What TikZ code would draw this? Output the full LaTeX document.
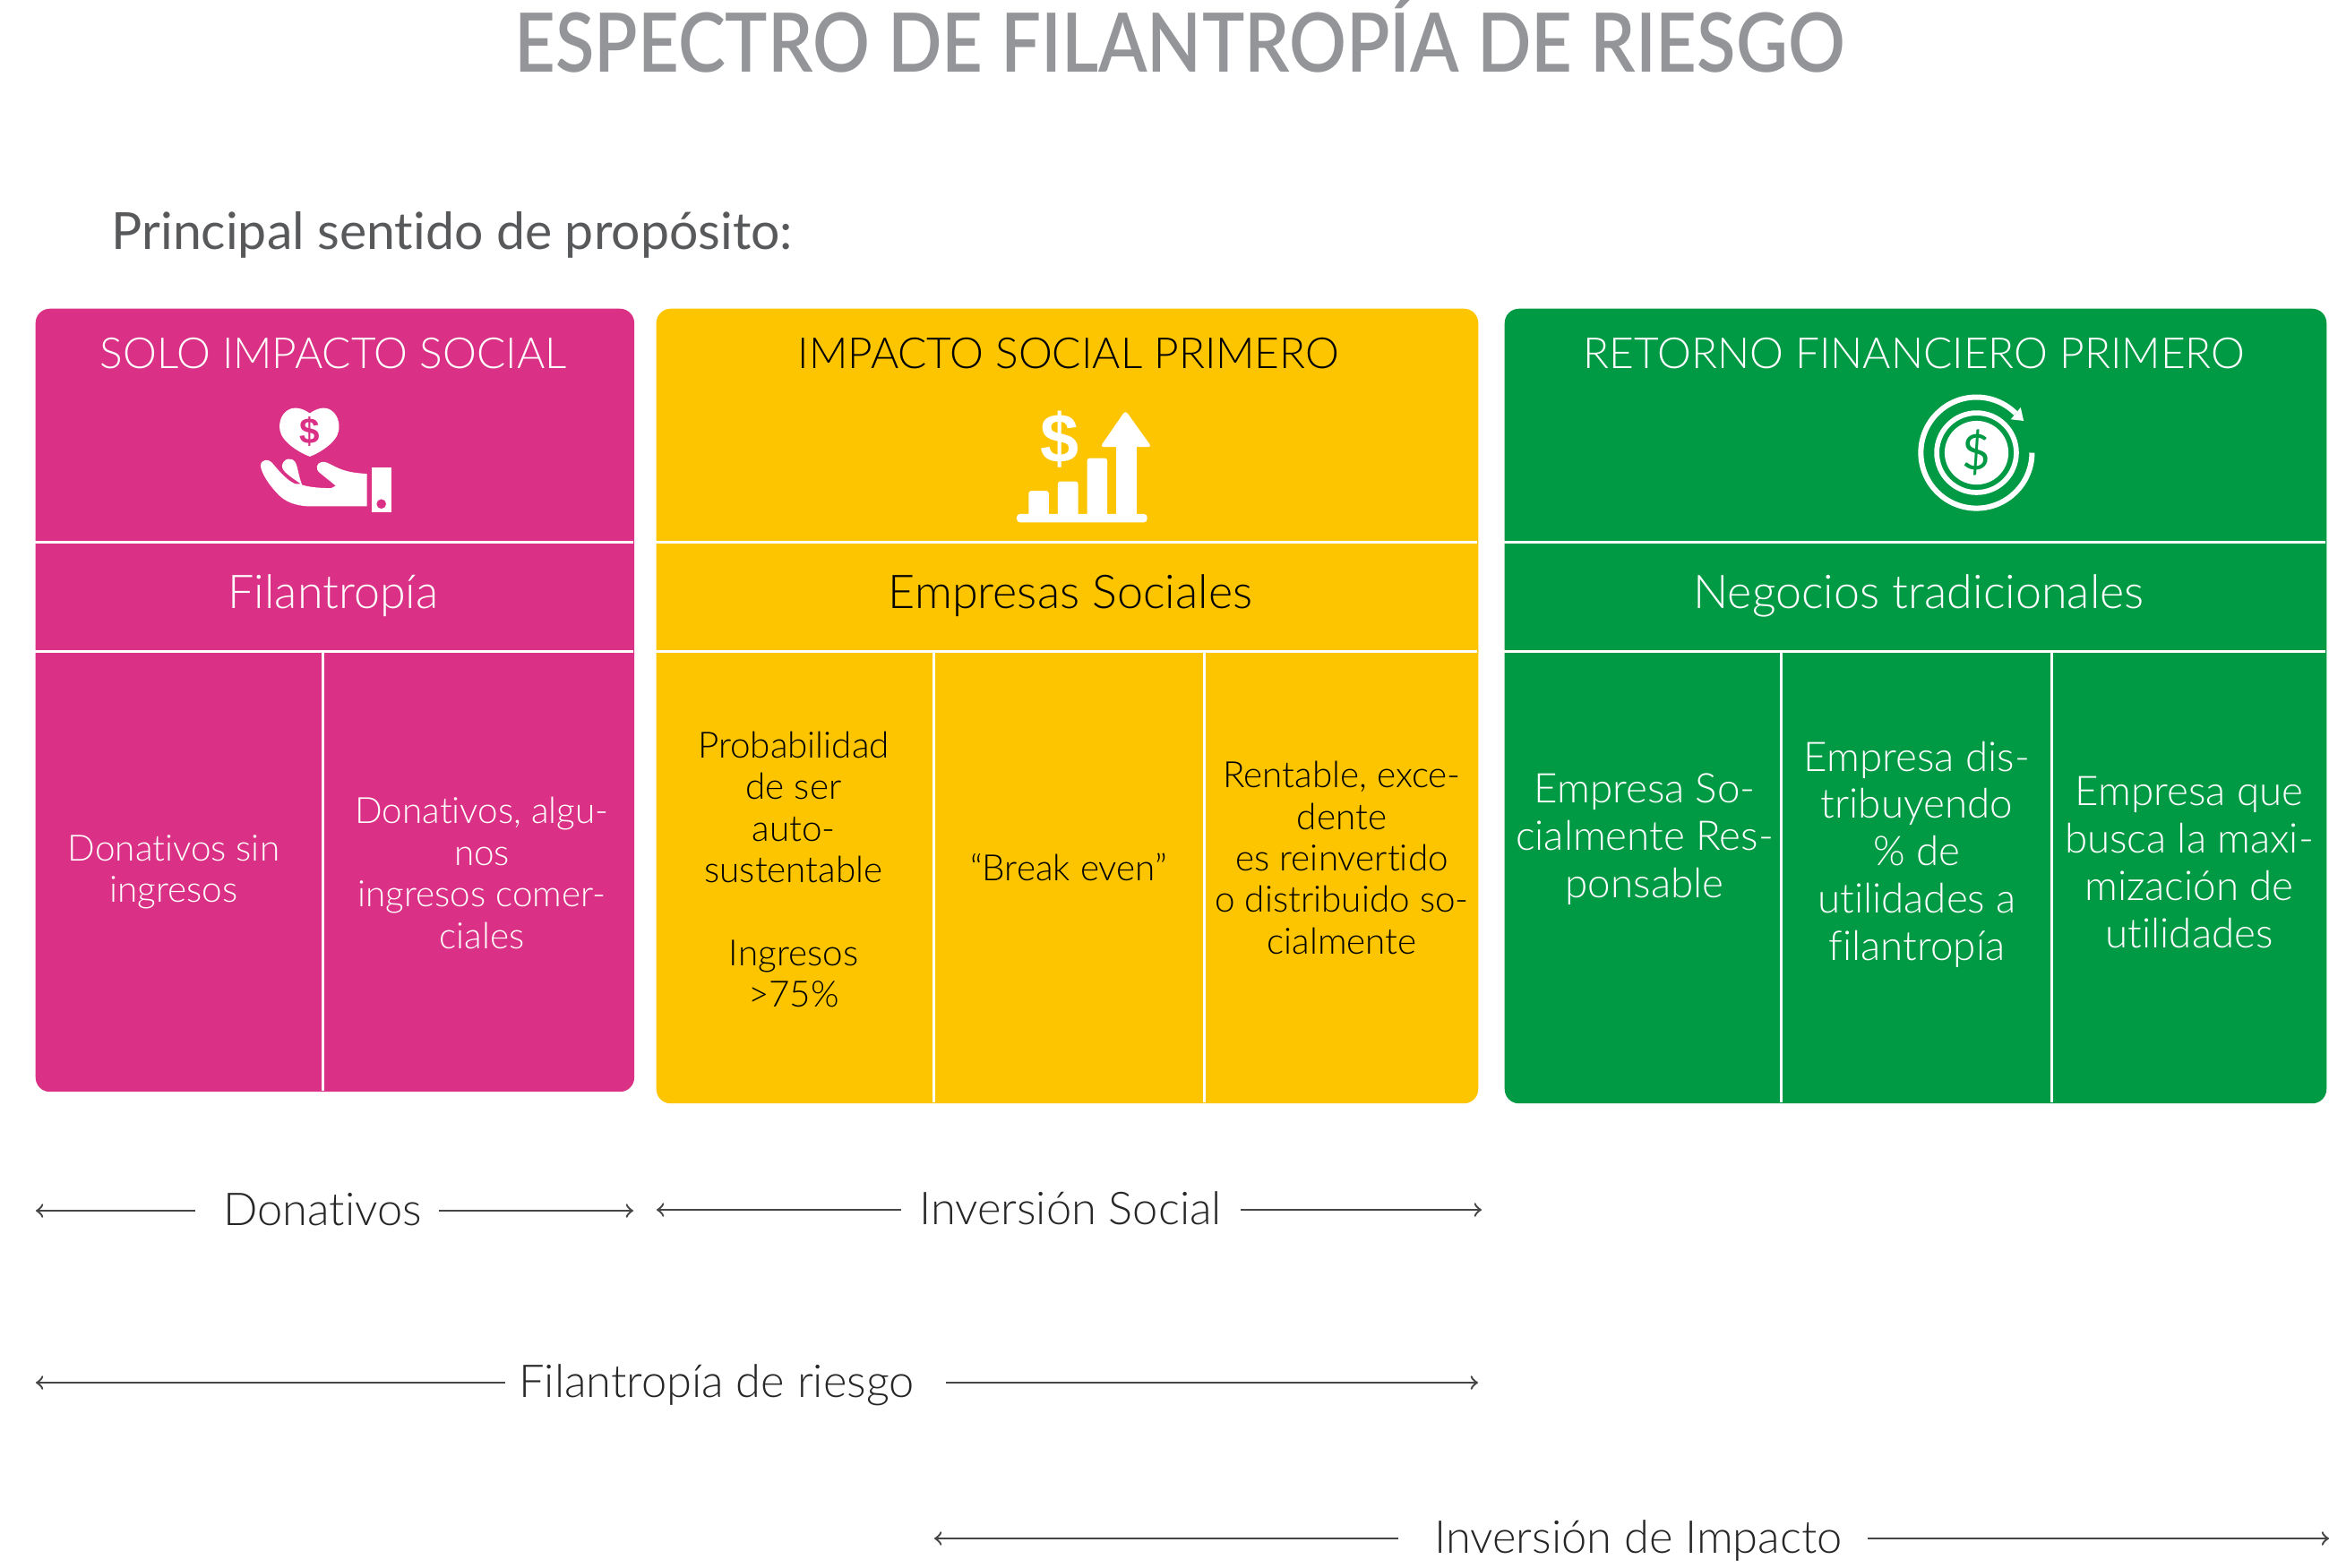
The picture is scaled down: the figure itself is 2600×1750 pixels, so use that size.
\documentclass[tikz,border=0pt]{standalone}
\usepackage{fontspec}
\usetikzlibrary{arrows, calc}
\setmainfont{Lato}[UprightFont=* Light, BoldFont=* Bold, Ligatures=NoCommon]
\newfontfamily\titlefont{Lato}[UprightFont=* Semibold, FakeStretch=0.87, Ligatures=NoCommon]
\newfontfamily\subfont{Lato}[Ligatures=NoCommon]
\newfontfamily\symbolfont{Liberation Sans}[UprightFont=* Bold]
\definecolor{grantpink}{RGB}{218,49,134}
\definecolor{socialyellow}{RGB}{253,197,0}
\definecolor{returngreen}{RGB}{0,154,68}
\definecolor{titlegrey}{RGB}{147,149,152}
\definecolor{subgrey}{RGB}{88,89,91}
\definecolor{spangrey}{RGB}{70,70,70}
\tikzset{
    panel/.style={rounded corners=0.16cm, anchor=north west, inner sep=0pt},
    divider/.style={white, line width=0.03cm},
    headtext/.style={font=\fontsize{13.6}{17}\selectfont},
    rowtext/.style={font=\fontsize{14.8}{18}\selectfont},
    celltext/.style={align=center, inner sep=0pt, font=\fontsize{11.5}{13.2}\selectfont},
    bigcell/.style={align=center, inner sep=0pt, font=\fontsize{13}{15}\selectfont},
    spanlabel/.style={inner sep=0pt, text height=9.35pt, text depth=0pt, black!85, font=\fontsize{14.4}{18}\selectfont},
    spanarrow/.style={->, >=to, spangrey, line width=0.024cm},
}
\begin{document}
\begin{tikzpicture}[x=0.01cm, y=-0.01cm]
    \useasboundingbox (0,0) rectangle (2600,1750);

    % titulo
    \node[titlegrey] (title) at (1317,38) {\titlefont\fontsize{26}{32}\selectfont ESPECTRO DE FILANTROPÍA DE RIESGO};
    \node[subgrey, anchor=west, inner sep=0pt] (purpose) at (124,262) {\subfont\fontsize{16.25}{18}\selectfont Principal sentido de propósito:};

    % paneles
    \node[panel, fill=grantpink, minimum width=6.68cm, minimum height=8.74cm] (pinkbox) at (39,344) {};
    \node[panel, fill=socialyellow, minimum width=9.17cm, minimum height=8.87cm] (yellowbox) at (732,344) {};
    \node[panel, fill=returngreen, minimum width=9.17cm, minimum height=8.87cm] (greenbox) at (1679,344) {};

    \draw[divider] (39,605) -- (707,605);
    \draw[divider] (39,727) -- (707,727);
    \draw[divider] (360,727) -- (360,1218);
    \draw[divider] (732,605) -- (1649,605);
    \draw[divider] (732,727) -- (1649,727);
    \draw[divider] (1042,727) -- (1042,1231);
    \draw[divider] (1344,727) -- (1344,1231);
    \draw[divider] (1679,605) -- (2596,605);
    \draw[divider] (1679,727) -- (2596,727);
    \draw[divider] (1988,727) -- (1988,1231);
    \draw[divider] (2290,727) -- (2290,1231);

    % encabezados
    \node[headtext, white] (pinkhead) at (372,395) {SOLO IMPACTO SOCIAL};
    \node[headtext, black] (yellowhead) at (1193,395) {IMPACTO SOCIAL PRIMERO};
    \node[headtext, white] (greenhead) at (2137,395) {RETORNO FINANCIERO PRIMERO};
    \node[rowtext, white] (pinkrow) at (372,665) {Filantropía};
    \node[rowtext, black] (yellowrow) at (1195,665) {Empresas Sociales};
    \node[rowtext, white] (greenrow) at (2142,665) {Negocios tradicionales};

    % celdas
    \node[celltext, white] (pinkone) at (194,974) {Donativos sin\\ingresos};
    \node[celltext, white] (pinktwo) at (538,975) {Donativos, algu-\\nos\\ingresos comer-\\ciales};
    \node[celltext, black] (yellowone) at (886,971) {Probabilidad\\de ser\\auto-\\sustentable\\~\\Ingresos\\>75\%};
    \node[celltext, black] (yellowtwo) at (1193,968) {“Break even”};
    \node[celltext, black] (yellowthree) at (1498,958) {Rentable, exce-\\dente\\es reinvertido\\o distribuido so-\\cialmente};
    \node[bigcell, white] (greenone) at (1836,937) {Empresa So-\\cialmente Res-\\ponsable};
    \node[bigcell, white] (greentwo) at (2140,954) {Empresa dis-\\tribuyendo\\\% de\\utilidades a\\filantropía};
    \node[bigcell, white] (greenthree) at (2444,963) {Empresa que\\busca la maxi-\\mización de\\utilidades};

    % mano con corazon
    \begin{scope}[shift={(250,400)}, x=0.00333cm, y=-0.00333cm]
        \fill[white] (288,185) .. controls (265,168) and (235,160) .. (213,175) .. controls (192,190) and (183,215) .. (188,243) .. controls (195,282) and (255,318) .. (288,330) .. controls (321,318) and (379,282) .. (385,243) .. controls (389,215) and (381,190) .. (360,175) .. controls (339,160) and (311,168) .. (288,185) -- cycle;
        \node[grantpink] (heartsign) at (288,246) {\symbolfont\fontsize{11.5}{11.5}\selectfont \$};
        \fill[white] (480,388) .. controls (440,385) and (410,382) .. (375,365) .. controls (355,355) and (340,345) .. (328,348) .. controls (310,352) and (305,372) .. (322,385) -- (375,428) -- (360,436) .. controls (330,436) and (290,434) .. (262,425) .. controls (250,395) and (248,365) .. (240,350) .. controls (228,330) and (200,335) .. (195,360) .. controls (193,380) and (225,398) .. (258,422) -- (240,422) .. controls (215,412) and (190,385) .. (165,355) .. controls (150,335) and (125,338) .. (123,360) .. controls (125,385) and (150,425) .. (185,460) .. controls (215,490) and (260,497) .. (290,497) -- (480,497) -- cycle;
        \fill[white] (497,368) rectangle (563,518);
        \fill[grantpink] (528,489) circle (16);
    \end{scope}

    % barras con flecha
    \begin{scope}[shift={(1100,430)}, x=0.00333cm, y=-0.00333cm]
        \fill[white, rounded corners=0.04cm] (105,432) rectangle (543,461);
        \fill[white, rounded corners=0.03cm] (145,440) rectangle (213,355);
        \fill[white, rounded corners=0.03cm] (243,440) rectangle (311,323);
        \fill[white, rounded corners=0.03cm] (341,440) rectangle (409,245);
        \fill[white] (438,208) rectangle (508,440);
        \fill[white, rounded corners=0.04cm] (470,85) -- (385,208) -- (558,208) -- cycle;
        \node[white] (barsign) at (249,183) {\symbolfont\fontsize{22}{22}\selectfont \$};
    \end{scope}

    % moneda con giro
    \begin{scope}[shift={(2110,420)}, x=0.00333cm, y=-0.00333cm]
        \coordinate (coin) at (290,257);
        \fill[white] (coin) circle (107);
        \draw[white, line width=0.057cm] (coin) circle (133.5);
        \draw[white, line width=0.06cm] (476,257) arc[start angle=0, end angle=-315, radius=0.62cm];
        \fill[white] (448,150) -- (405,145) -- (438,105) -- cycle;
        \node[returngreen] (coinsign) at (290,257) {\subfont\fontsize{15.5}{15.5}\selectfont \$};
    \end{scope}

    % rangos
    \coordinate (donleft) at (40,1352);
    \coordinate (donright) at (707,1352);
    \coordinate (socleft) at (733,1351);
    \coordinate (socright) at (1654,1351);
    \coordinate (filleft) at (40,1544);
    \coordinate (filright) at (1650,1544);
    \coordinate (impleft) at (1043,1718);
    \coordinate (impright) at (2600,1718);
    \node[spanlabel] (donlabel) at (360,1352) {Donativos};
    \node[spanlabel] (soclabel) at (1195,1351) {Inversión Social};
    \node[spanlabel] (fillabel) at (800,1544) {Filantropía de riesgo};
    \node[spanlabel] (implabel) at (1829,1718) {Inversión de Impacto};
    \draw[spanarrow] ([xshift=-0.30cm]donlabel.west) -- (donleft);
    \draw[spanarrow] ([xshift=0.18cm]donlabel.east) -- (donright);
    \draw[spanarrow] ([xshift=-0.20cm]soclabel.west) -- (socleft);
    \draw[spanarrow] ([xshift=0.20cm]soclabel.east) -- (socright);
    \draw[spanarrow] ([xshift=-0.15cm]fillabel.west) -- (filleft);
    \draw[spanarrow] ([xshift=0.35cm]fillabel.east) -- (filright);
    \draw[spanarrow] ([xshift=-0.40cm]implabel.west) -- (impleft);
    \draw[spanarrow] ([xshift=0.28cm]implabel.east) -- (impright);
\end{tikzpicture}
\end{document}
